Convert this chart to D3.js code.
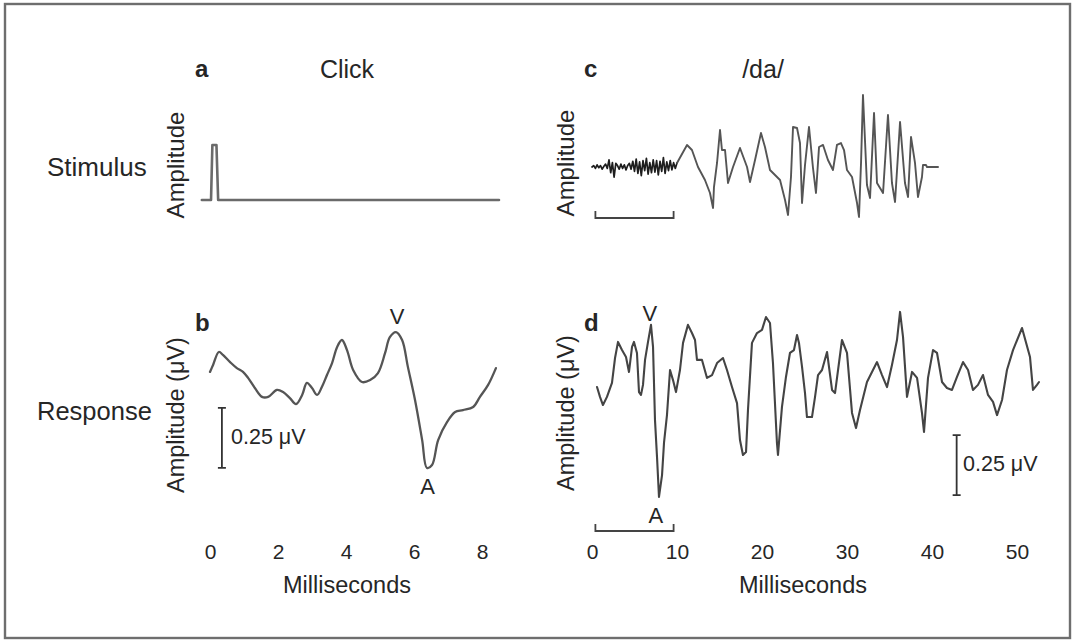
<!DOCTYPE html>
<html><head><meta charset="utf-8">
<script src="https://cdn.jsdelivr.net/npm/d3@7"></script>
<style>body{margin:0;background:#fff}svg{display:block}text{font-family:"Liberation Sans",Arial,sans-serif;fill:#262626}</style>
</head><body>
<script>
// ---------- data ----------
const clickTimes = [-0.24, 0.03, 0.07, 0.19, 0.24, 8.5];
const clickAmps  = [0, 0, 1, 1, 0, 0];

const clickRespTimes = [0,0.09,0.26,0.38,0.59,0.79,0.97,1.12,1.32,1.53,1.71,1.97,2.15,2.35,2.53,2.71,2.85,3.0,3.15,3.29,3.44,3.59,3.74,3.88,4.03,4.21,4.47,4.71,4.94,5.15,5.29,5.47,5.65,5.82,6.03,6.24,6.38,6.53,6.71,6.97,7.21,7.44,7.74,7.94,8.18,8.41];
const clickRespUV = [0.117,0.146,0.2,0.188,0.158,0.133,0.117,0.092,0.05,0.013,0.013,0.042,0.033,0.008,-0.017,0.021,0.071,0.05,0.021,0.054,0.104,0.154,0.221,0.25,0.208,0.125,0.075,0.083,0.112,0.196,0.262,0.283,0.25,0.138,0,-0.167,-0.283,-0.271,-0.167,-0.092,-0.05,-0.042,-0.029,0.013,0.063,0.133];

const daNoiseTimes = [0.0,0.2,0.4,0.6,0.8,1.0,1.2,1.4,1.6,1.8,2.0,2.2,2.4,2.6,2.8,3.0,3.2,3.4,3.6,3.8,4.0,4.2,4.4,4.6,4.8,5.0,5.2,5.4,5.6,5.8,6.0,6.2,6.4,6.6,6.8,7.0,7.2,7.4,7.6,7.8,8.0,8.2,8.4,8.6,8.8,9.0,9.2,9.4,9.6,9.8,10.0];
const daNoiseAmps  = [0.00,0.02,-0.02,0.03,-0.01,0.02,-0.03,0.01,0.04,-0.02,0.10,-0.08,0.06,-0.14,0.05,0.02,-0.03,0.04,-0.02,0.03,-0.04,0.02,0.05,-0.03,0.08,-0.06,0.11,-0.09,0.07,-0.12,0.09,-0.05,0.12,-0.10,0.06,-0.08,0.10,-0.07,0.09,-0.11,0.08,-0.06,0.13,-0.09,0.07,-0.05,0.09,-0.04,0.06,-0.02,0.056];

const daSpeechTimes = [10.0,11.18,11.76,12.47,13.29,13.88,14.24,14.35,14.71,15.06,15.29,15.65,16.0,16.59,17.41,18.24,18.59,19.18,19.88,20.35,20.94,21.53,22.12,22.71,23.06,23.41,23.65,24.12,24.47,24.71,25.06,25.53,26.0,26.35,26.71,27.18,27.76,28.35,28.82,29.29,29.65,30.0,30.59,31.18,31.41,31.65,31.88,32.35,32.71,33.18,33.53,34.24,34.82,35.29,35.65,36.24,36.82,37.18,37.53,38.0,38.35,38.82,38.94,39.29,39.41,40.71];
const daSpeechAmps  = [0.056,0.306,0.236,0,-0.181,-0.361,-0.569,-0.278,0.056,0.514,0.236,0.236,-0.222,0,0.264,0,-0.208,0.097,0.472,0.278,-0.042,-0.111,-0.181,-0.458,-0.667,-0.139,0.556,0.542,0.333,-0.5,0.028,0.556,-0.014,-0.361,0.278,0.306,0.097,-0.042,0.306,0.333,0.236,-0.042,-0.139,-0.5,-0.694,0.056,1.0,-0.25,-0.431,0.75,-0.222,-0.361,0.722,-0.222,-0.486,0.625,-0.222,-0.417,0.417,0.056,-0.417,-0.139,0.028,0.028,0,0];

const daRespTimes = [0.59,0.94,1.29,1.76,2.35,2.71,3.06,3.53,4.0,4.35,4.71,4.94,5.29,5.53,5.76,6.0,6.24,6.59,6.94,7.18,7.41,7.65,7.88,8.24,8.47,8.82,9.18,9.53,9.88,10.35,10.71,11.29,11.76,12.12,12.35,12.94,13.53,14.12,14.71,15.41,15.88,16.47,17.06,17.41,17.76,18.12,18.35,18.82,19.41,20.0,20.47,20.94,21.29,21.76,21.88,22.35,22.82,23.29,23.76,24.12,24.35,24.71,25.06,25.29,25.88,26.24,26.59,27.06,27.65,28.24,28.59,29.41,30.0,30.59,31.06,31.53,32.35,32.94,33.53,34.12,34.71,35.29,35.88,36.24,36.59,37.06,37.65,38.24,38.82,39.06,39.53,40.12,40.59,41.18,41.76,42.35,42.94,43.65,44.24,44.82,45.41,46.0,46.59,47.18,47.65,48.24,48.82,49.53,50.59,51.53,51.88,52.35,52.59];
const daRespUV = [0.054,0.013,-0.021,0.013,0.071,0.175,0.242,0.208,0.179,0.117,0.221,0.242,0.196,0.033,0.021,0.063,0.167,0.242,0.313,0.221,-0.083,-0.238,-0.404,-0.313,-0.179,-0.063,0.125,0.083,0.033,0.125,0.238,0.313,0.279,0.25,0.167,0.167,0.092,0.104,0.154,0.175,0.125,0.054,-0.013,-0.167,-0.229,-0.217,-0.042,0.238,0.279,0.292,0.346,0.321,0.154,-0.179,-0.229,-0.029,0.096,0.196,0.208,0.271,0.238,0.138,0.029,-0.071,-0.071,0.013,0.104,0.125,0.2,0.042,0.029,0.25,0.196,-0.054,-0.117,-0.042,0.075,0.117,0.158,0.104,0.054,0.146,0.25,0.367,0.263,0.013,0.117,0.092,-0.054,-0.133,0.092,0.208,0.196,0.075,0.05,0.042,0.096,0.158,0.125,0.042,0.063,0.104,0.021,-0.008,-0.063,0,0.125,0.208,0.3,0.179,0.042,0.063,0.075];

const clickTicks = [0, 2, 4, 6, 8];
const daTicks = [0, 10, 20, 30, 40, 50];
const bracketSpan = [0.4, 9.6];
const scaleBarUV = 0.25;

// ---------- drawing ----------
const W = 1073, H = 641;
const svg = d3.select("body").append("svg").attr("width", W).attr("height", H);
svg.append("rect").attr("x",5).attr("y",4).attr("width",1065).attr("height",634)
  .attr("fill","none").attr("stroke","#6e6e6e").attr("stroke-width",2.4);

const xClick = d3.scaleLinear().domain([0, 8]).range([210, 482]);
const xDa = d3.scaleLinear().domain([0, 50]).range([592, 1017]);
const yClickStim = d3.scaleLinear().domain([0, 1]).range([200, 145]);
const yDaStim = d3.scaleLinear().domain([-1, 1]).range([239, 95]);
const yClickResp = d3.scaleLinear().domain([-0.3, 0.3]).range([472, 328]);
const yDaResp = d3.scaleLinear().domain([-0.3, 0.3]).range([472, 328]);

function trace(ts, vs, x, y, color, width, curve) {
  const pts = ts.map((t, i) => [t, vs[i]]);
  svg.append("path").datum(pts)
    .attr("d", d3.line().curve(curve || d3.curveLinear).x(d => x(d[0])).y(d => y(d[1])))
    .attr("fill","none").attr("stroke",color).attr("stroke-width",width)
    .attr("stroke-linejoin","round").attr("stroke-linecap","round");
}
trace(clickTimes, clickAmps, xClick, yClickStim, "#6a6a6a", 2.6);
trace(clickRespTimes, clickRespUV, xClick, yClickResp, "#555", 2.3, d3.curveCatmullRom);
trace(daNoiseTimes, daNoiseAmps, xDa, yDaStim, "#1e1e1e", 1.7);
trace(daSpeechTimes, daSpeechAmps, xDa, yDaStim, "#555", 1.9);
trace(daRespTimes, daRespUV, xDa, yDaResp, "#444", 2.1);

function txt(x, y, s, size, opts = {}) {
  const t = svg.append("text").attr("x", x).attr("y", y).text(s)
    .style("font-size", size + "px").attr("text-anchor", opts.anchor || "start");
  if (opts.bold) t.style("font-weight", "bold");
  if (opts.rotate) t.attr("transform", `rotate(-90 ${x} ${y})`);
  return t;
}

// titles and letters
txt(195, 77, "a", 24, {bold: true});
txt(347, 78, "Click", 25, {anchor: "middle"});
txt(584, 77, "c", 24, {bold: true});
txt(763, 78, "/da/", 25, {anchor: "middle"});
txt(195, 331, "b", 24, {bold: true});
txt(584, 331, "d", 24, {bold: true});
txt(47, 176, "Stimulus", 26);
txt(37, 420, "Response", 25.5);
txt(184, 165, "Amplitude", 24, {anchor: "middle", rotate: true});
txt(574, 163, "Amplitude", 24, {anchor: "middle", rotate: true});
txt(184, 415, "Amplitude (\u03bcV)", 23.5, {anchor: "middle", rotate: true});
txt(574, 413, "Amplitude (\u03bcV)", 23.5, {anchor: "middle", rotate: true});

// peak labels
txt(xClick(5.5), 324, "V", 22, {anchor: "middle"});
txt(xClick(6.4), 494, "A", 22, {anchor: "middle"});
txt(xDa(6.8), 321, "V", 22, {anchor: "middle"});
txt(xDa(7.5), 523, "A", 22, {anchor: "middle"});

// axes
function axis(x, ticks, y) {
  const g = svg.append("g").attr("transform", `translate(0,${y})`)
    .call(d3.axisBottom(x).tickValues(ticks).tickSize(0).tickPadding(0).tickFormat(d3.format("d")));
  g.select(".domain").remove();
  g.selectAll("text").style("font-size","21px").style("font-family","'Liberation Sans',Arial,sans-serif").attr("fill","#262626");
}
axis(xClick, clickTicks, 544);
axis(xDa, daTicks, 544);
txt(347, 593, "Milliseconds", 23.5, {anchor: "middle"});
txt(803, 593, "Milliseconds", 23.5, {anchor: "middle"});

// brackets
function bracket(yBase) {
  const x0 = xDa(bracketSpan[0]), x1 = xDa(bracketSpan[1]);
  svg.append("path").attr("d", `M${x0},${yBase-7}V${yBase}H${x1}V${yBase-7}`)
    .attr("fill","none").attr("stroke","#444").attr("stroke-width",1.8);
}
bracket(218);
bracket(531);

// scale bars
function scaleBar(x, t, y, v0, lx, ly) {
  const px = x(t), ya = y(v0), yb = y(v0 + scaleBarUV);
  svg.append("path").attr("d", `M${px},${ya}V${yb}M${px-4},${ya}H${px+4}M${px-4},${yb}H${px+4}`)
    .attr("stroke","#333").attr("stroke-width",1.8).attr("fill","none");
  txt(lx, ly, "0.25 \u03bcV", 21.5);
}
scaleBar(xClick, 0.35, yClickResp, -0.283, 231, 444);
scaleBar(xDa, 42.9, yDaResp, -0.396, 963, 471);
</script>
</body></html>
